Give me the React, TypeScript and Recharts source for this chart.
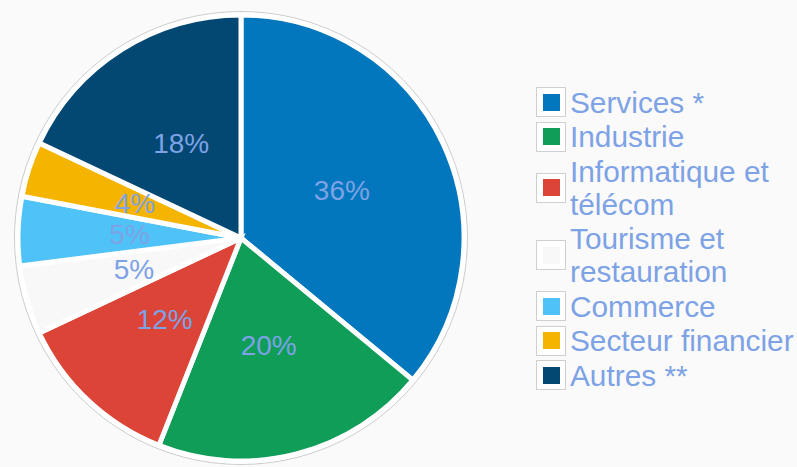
import React from 'react';
import { PieChart, Pie, Cell, Legend } from 'recharts';

// Répartition par secteur (%)
const sectors = [
  'Services *',
  'Industrie',
  'Informatique et télécom',
  'Tourisme et restauration',
  'Commerce',
  'Secteur financier',
  'Autres **',
];
const shares = [36, 20, 12, 5, 5, 4, 18];
const colors = ['#0277bd', '#0f9d58', '#db4437', '#f8f8f8', '#4fc3f7', '#f4b400', '#024873'];

// single slice used as the thin grey contour behind the pie
const contour = [{ name: 'contour', value: 100 }];

const data = sectors.map((name, i) => ({ name, value: shares[i] }));

const TEXT_COLOR = '#7da2e5';
const RAD = Math.PI / 180;

const renderLabel = ({ cx, cy, midAngle, outerRadius, value }: any) => {
  const r = outerRadius * 0.5;
  const x = cx + r * Math.cos(-midAngle * RAD);
  const y = cy + r * Math.sin(-midAngle * RAD);
  return (
    <text x={x} y={y} fill={TEXT_COLOR} fontSize={28} textAnchor="middle" dominantBaseline="central">
      {`${value}%`}
    </text>
  );
};

const SectorLegend = () => (
  <div>
    {sectors.map((name, i) => (
      <div key={name} style={{ display: 'flex', alignItems: 'center', padding: '0.75px 0' }}>
        <div
          style={{
            width: 30,
            height: 30,
            boxSizing: 'border-box',
            border: '1px solid #cfcfcf',
            background: '#fff',
            display: 'flex',
            alignItems: 'center',
            justifyContent: 'center',
            flexShrink: 0,
          }}
        >
          <div style={{ width: 17, height: 17, background: colors[i] }} />
        </div>
        <div style={{ marginLeft: 4, width: 227, fontSize: 29.8, lineHeight: '33px', color: TEXT_COLOR }}>
          {name}
        </div>
      </div>
    ))}
  </div>
);

export default function App() {
  return (
    <div
      style={{
        position: 'absolute',
        left: 0,
        top: 0,
        width: 797,
        height: 467,
        overflow: 'hidden',
        background: '#fafafa',
        fontFamily: '"Liberation Sans", Arial, sans-serif',
      }}
    >
      <PieChart width={797} height={467} margin={{ top: 0, right: 0, bottom: 0, left: 0 }}>
        <Pie
          data={contour}
          dataKey="value"
          cx={241}
          cy={238}
          outerRadius={226.5}
          startAngle={90}
          endAngle={-270}
          fill="#ffffff"
          stroke="#cccccc"
          strokeWidth={1}
          legendType="none"
          isAnimationActive={false}
        />
        <Pie
          data={data}
          dataKey="value"
          nameKey="name"
          cx={241}
          cy={238}
          outerRadius={223}
          startAngle={90}
          endAngle={-270}
          stroke="#ffffff"
          strokeWidth={5}
          label={renderLabel}
          labelLine={false}
          isAnimationActive={false}
        >
          {data.map((d, i) => (
            <Cell key={d.name} fill={colors[i]} />
          ))}
        </Pie>
        <Legend
          layout="vertical"
          content={() => <SectorLegend />}
          wrapperStyle={{ left: 536, top: 85, width: 261 }}
        />
      </PieChart>
    </div>
  );
}
